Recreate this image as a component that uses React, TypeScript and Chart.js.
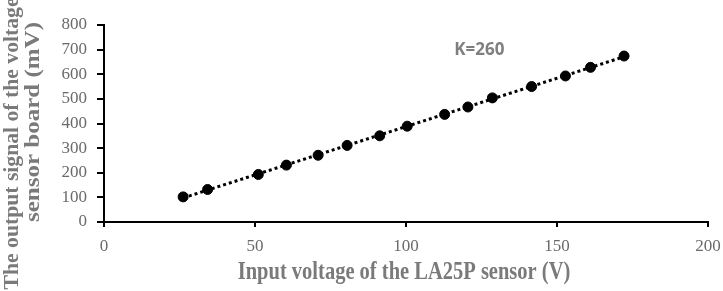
import React, { useEffect, useRef } from "react";
import { Chart, registerables } from "chart.js";

Chart.register(...registerables);

// Measured sensor board output versus LA25P input voltage
const inputVoltage = [26.2, 34.3, 51.1, 60.4, 70.9, 80.5, 91.3, 100.4, 112.8, 120.5, 128.6, 141.6, 152.8, 161.1, 172.2];
const outputSignal = [102, 132, 193, 231, 271, 311, 350, 389, 437, 467, 504, 550, 593, 628, 674];

const xTitle = "Input voltage of the LA25P sensor (V)";
const yTitle = ["The output signal of the voltage", "sensor board (mV)"];
const gainLabel = "K=260";
const gainLabelAt = { x: 116, y: 698 };

// Least-squares trend line over the measured range
function trendLine(xs: number[], ys: number[]) {
  const n = xs.length;
  const mx = xs.reduce((a, b) => a + b, 0) / n;
  const my = ys.reduce((a, b) => a + b, 0) / n;
  let sxy = 0;
  let sxx = 0;
  for (let i = 0; i < n; i++) {
    sxy += (xs[i] - mx) * (ys[i] - my);
    sxx += (xs[i] - mx) * (xs[i] - mx);
  }
  const slope = sxy / sxx;
  const icpt = my - slope * mx;
  const x0 = Math.min(...xs);
  const x1 = Math.max(...xs);
  return [
    { x: x0, y: icpt + slope * x0 },
    { x: x1, y: icpt + slope * x1 },
  ];
}

const TITLE_FONT = "bold 20.5px 'Liberation Serif'";
const TITLE_COLOR = "#7a7a7a";
const TITLE_STRETCH = 1.18;
// vertical title lines: [offset from the axis box's left edge, centre offset from plot middle, drawn length]
const yTitleLayout = [
  { dx: 12.5, dy: 20, length: 292 },
  { dx: 33.5, dy: -1.5, length: 200 },
];

// Axis titles in a tall bold serif face
const axisTitles = {
  id: "axisTitles",
  afterDraw(chart: any) {
    const { ctx, chartArea, scales } = chart;
    ctx.save();
    ctx.font = TITLE_FONT;
    ctx.fillStyle = TITLE_COLOR;
    ctx.textAlign = "center";
    ctx.textBaseline = "middle";

    // horizontal axis title
    ctx.save();
    ctx.translate((chartArea.left + chartArea.right) / 2 - 2, chartArea.bottom + 51);
    ctx.scale(1, TITLE_STRETCH);
    ctx.fillText(xTitle, 0, 0);
    ctx.restore();

    // vertical axis title, two lines
    const mid = (chartArea.top + chartArea.bottom) / 2;
    yTitle.forEach((line, i) => {
      const lay = yTitleLayout[i];
      const w = ctx.measureText(line).width;
      ctx.save();
      ctx.translate(scales.y.left + lay.dx, mid + lay.dy);
      ctx.scale(1, lay.length / w);
      ctx.rotate(-Math.PI / 2);
      ctx.fillText(line, 0, 0);
      ctx.restore();
    });
    ctx.restore();
  },
};

const gainText = {
  id: "gainText",
  afterDatasetsDraw(chart: any) {
    const { ctx, scales } = chart;
    const px = scales.x.getPixelForValue(gainLabelAt.x);
    const py = scales.y.getPixelForValue(gainLabelAt.y);
    ctx.save();
    ctx.font = "bold 17px 'Open Sans'";
    ctx.fillStyle = "#7f7f7f";
    ctx.textAlign = "left";
    ctx.textBaseline = "middle";
    ctx.fillText(gainLabel, px, py);
    ctx.restore();
  },
};

export default function App() {
  const canvasRef = useRef<HTMLCanvasElement>(null);

  useEffect(() => {
    if (!canvasRef.current) return;
    const points = inputVoltage.map((x, i) => ({ x, y: outputSignal[i] }));
    const chart = new Chart(canvasRef.current, {
      type: "scatter",
      data: {
        datasets: [
          {
            type: "line",
            data: trendLine(inputVoltage, outputSignal),
            borderColor: "#000000",
            borderWidth: 3,
            borderDash: [3, 3],
            pointRadius: 0,
            fill: false,
          },
          {
            data: points,
            backgroundColor: "#000000",
            borderColor: "#000000",
            pointRadius: 5,
            pointHoverRadius: 5,
          },
        ],
      },
      options: {
        animation: false,
        responsive: false,
        maintainAspectRatio: false,
        layout: { padding: { top: 25, right: 15, bottom: 8, left: 0 } },
        plugins: { legend: { display: false }, tooltip: { enabled: false } },
        scales: {
          x: {
            type: "linear",
            min: 0,
            max: 200,
            afterFit: (s: any) => {
              s.height = 61;
              s.paddingLeft = 0;
              s.paddingRight = 0;
            },
            ticks: {
              stepSize: 50,
              padding: 9,
              color: "#6a6a6a",
              font: { family: "'Liberation Serif'", size: 17 },
            },
            grid: {
              display: true,
              drawOnChartArea: false,
              drawTicks: true,
              tickLength: 5,
              color: "#000000",
              lineWidth: 2,
            },
            border: { display: true, color: "#000000", width: 2 },
          },
          y: {
            type: "linear",
            min: 0,
            max: 800,
            afterFit: (s: any) => {
              s.width = 104;
              s.paddingTop = 0;
              s.paddingBottom = 0;
            },
            ticks: {
              stepSize: 100,
              padding: 10,
              color: "#6a6a6a",
              font: { family: "'Liberation Serif'", size: 17 },
            },
            grid: {
              display: true,
              drawOnChartArea: false,
              drawTicks: true,
              tickLength: 7,
              color: "#000000",
              lineWidth: 2,
            },
            border: { display: true, color: "#000000", width: 2 },
          },
        },
      },
      plugins: [gainText, axisTitles],
    });
    return () => chart.destroy();
  }, []);

  return (
    <div style={{ position: "absolute", left: 0, top: 0, width: 723, height: 291, background: "#ffffff" }}>
      <canvas ref={canvasRef} width={723} height={291} style={{ width: 723, height: 291 }} />
    </div>
  );
}
